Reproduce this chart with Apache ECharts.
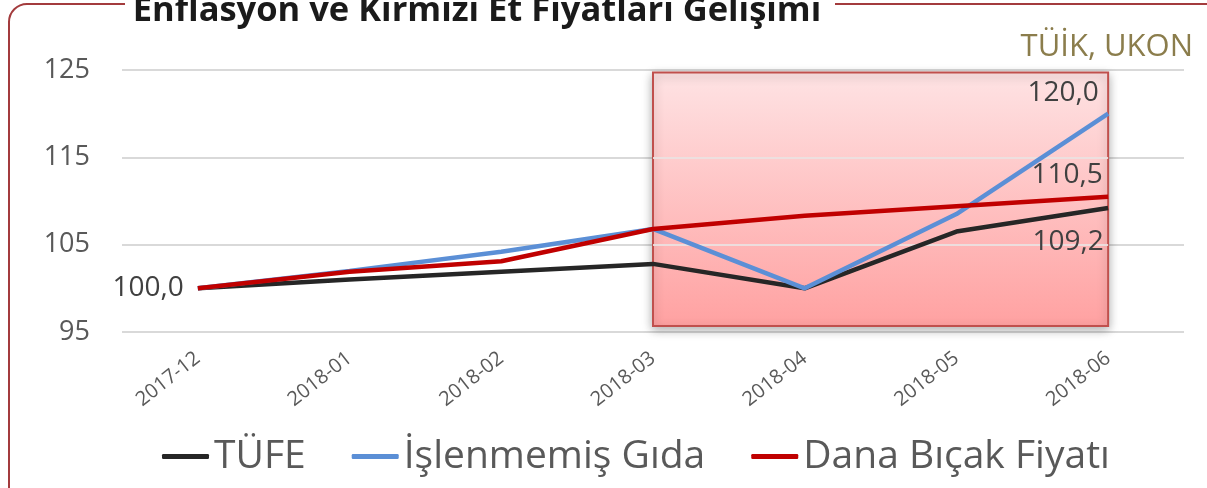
<!DOCTYPE html>
<html>
<head>
<meta charset="utf-8">
<script src="https://cdn.jsdelivr.net/npm/echarts@6/dist/echarts.min.js"></script>
<style>
  html, body { margin: 0; padding: 0; background: #fff; }
  #chart { width: 1207px; height: 488px; }
</style>
</head>
<body>
<div id="chart"></div>
<script>
// veriler
var categories = ['2017-12', '2018-01', '2018-02', '2018-03', '2018-04', '2018-05', '2018-06'];
var tufe = [100.0, 101.0, 101.9, 102.8, 100.0, 106.5, 109.2];
var islenmemisGida = [100.0, 102.0, 104.2, 106.8, 100.0, 108.5, 120.0];
var danaBicak = [100.0, 101.9, 103.1, 106.8, 108.3, 109.4, 110.5];
var yTicks = [95, 105, 115, 125];
var titleText = 'Enflasyon ve Kırmızı Et Fiyatları Gelişimi';
var sourceText = 'TÜİK, UKON';

var fontFam = '"Open Sans", sans-serif';

function fmt(v) {
  return v.toFixed(1).replace('.', ',');
}

// sadece belirli noktalarda etiket
function withLabels(arr, labels) {
  return arr.map(function (v, i) {
    if (labels[i]) {
      return { value: v, label: Object.assign({ show: true }, labels[i]) };
    }
    return v;
  });
}

var labelBase = {
  fontFamily: fontFam,
  fontSize: 28,
  color: '#404040',
  formatter: function (p) { return fmt(p.value); }
};

var chart = echarts.init(document.getElementById('chart'));
var option = {
  animation: false,
  graphic: [
    {
      type: 'rect',
      shape: { x: 9, y: 4, width: 1260, height: 600, r: 18 },
      style: { fill: 'none', stroke: '#a33b3d', lineWidth: 2 },
      z: 0
    },
    {
      type: 'rect',
      shape: { x: 125, y: 0, width: 710, height: 12 },
      style: { fill: '#fff' },
      z: 1
    },
    {
      type: 'text',
      x: 477, y: 29,
      style: {
        text: titleText,
        font: 'bold 34.5px ' + fontFam,
        fill: '#1a1a1a',
        textAlign: 'center',
        textVerticalAlign: 'bottom'
      },
      z: 2
    },
    {
      type: 'text',
      x: 1193, y: 47,
      style: {
        text: sourceText,
        font: '31px ' + fontFam,
        fill: '#8b7d4c',
        textAlign: 'right',
        textVerticalAlign: 'middle'
      },
      z: 2
    }
  ],
  grid: { left: 122, right: 23, top: 70, bottom: 156 },
  legend: {
    data: ['TÜFE', 'İşlenmemiş Gıda', 'Dana Bıçak Fiyatı'],
    left: 157,
    top: 432,
    icon: 'roundRect',
    itemWidth: 47,
    itemHeight: 5,
    itemGap: 46,
    textStyle: { fontFamily: fontFam, fontSize: 39, color: '#595959' }
  },
  xAxis: {
    type: 'category',
    data: categories,
    boundaryGap: true,
    axisLine: { show: false },
    axisTick: { show: false },
    axisLabel: {
      rotate: 38,
      margin: 24,
      fontFamily: fontFam,
      fontSize: 20,
      color: '#595959'
    }
  },
  yAxis: {
    type: 'value',
    min: yTicks[0],
    max: yTicks[yTicks.length - 1],
    interval: 10,
    axisLine: { show: false },
    axisTick: { show: false },
    splitLine: { lineStyle: { color: '#d9d9d9', width: 2 } },
    axisLabel: {
      margin: 32,
      fontFamily: fontFam,
      fontSize: 27,
      color: '#595959'
    }
  },
  series: [
    {
      name: 'bg',
      type: 'line',
      z: 1,
      silent: true,
      data: tufe,
      symbol: 'none',
      lineStyle: { opacity: 0 },
      markArea: {
        silent: true,
        z: 1,
        itemStyle: {
          color: new echarts.graphic.LinearGradient(0, 0, 0, 1, [
            { offset: 0, color: '#fee3e4' },
            { offset: 1, color: '#ffa1a1' }
          ]),
          borderColor: '#c0504d',
          borderWidth: 2,
          shadowColor: 'rgba(0,0,0,0.3)',
          shadowBlur: 10,
          shadowOffsetX: 0,
          shadowOffsetY: 3
        },
        data: [[
          { xAxis: '2018-03', yAxis: 124.7 },
          { xAxis: '2018-06', yAxis: 95.7 }
        ]]
      },
      // kutunun içinden görünen ızgara çizgileri
      markLine: {
        silent: true,
        z: 2,
        symbol: 'none',
        label: { show: false },
        lineStyle: { color: 'rgba(235,225,225,0.9)', width: 2, type: 'solid' },
        data: [
          [{ xAxis: '2018-03', yAxis: yTicks[1] }, { xAxis: '2018-06', yAxis: yTicks[1] }],
          [{ xAxis: '2018-03', yAxis: yTicks[2] }, { xAxis: '2018-06', yAxis: yTicks[2] }]
        ]
      }
    },
    {
      name: 'TÜFE',
      type: 'line',
      z: 3,
      data: withLabels(tufe, {
        0: { position: 'left', distance: 14 },
        6: { position: 'bottom', offset: [-40, 15] }
      }),
      symbol: 'circle',
      symbolSize: 0,
      itemStyle: { color: '#262626' },
      lineStyle: { color: '#262626', width: 4.5 },
      label: labelBase
    },
    {
      name: 'İşlenmemiş Gıda',
      type: 'line',
      z: 3,
      data: withLabels(islenmemisGida, {
        6: { position: 'top', offset: [-45, -2] }
      }),
      symbol: 'circle',
      symbolSize: 0,
      itemStyle: { color: '#5b8fd6' },
      lineStyle: { color: '#5b8fd6', width: 4.5 },
      label: labelBase
    },
    {
      name: 'Dana Bıçak Fiyatı',
      type: 'line',
      z: 3,
      data: withLabels(danaBicak, {
        6: { position: 'top', offset: [-41, -3] }
      }),
      symbol: 'circle',
      symbolSize: 0,
      itemStyle: { color: '#c00000' },
      lineStyle: { color: '#c00000', width: 4.5 },
      label: labelBase
    }
  ]
};
chart.setOption(option);
window.addEventListener('resize', function () {
  chart.resize();
});
</script>
</body>
</html>
